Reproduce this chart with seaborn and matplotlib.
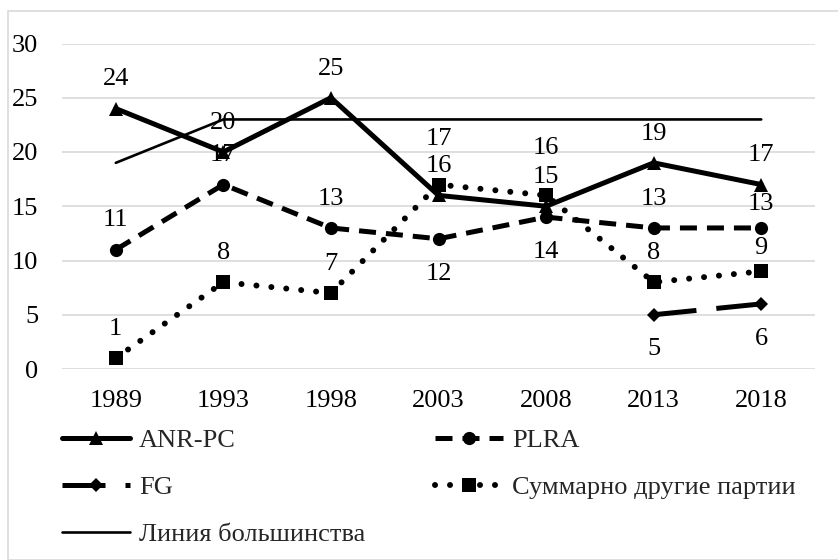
import numpy as np
import pandas as pd
import matplotlib
matplotlib.use("Agg")
import matplotlib.pyplot as plt
from matplotlib.lines import Line2D
from matplotlib.patches import Rectangle
import seaborn as sns

# data
years = ["1989", "1993", "1998", "2003", "2008", "2013", "2018"]
anr_pc = [24, 20, 25, 16, 15, 19, 17]
plra = [11, 17, 13, 12, 14, 13, 13]
fg = [np.nan, np.nan, np.nan, np.nan, np.nan, 5, 6]
others = [1, 8, 7, 17, 16, 8, 9]
majority = [19, 23, 23, 23, 23, 23, 23]

names = ["ANR-PC", "PLRA", "FG", "Суммарно другие партии", "Линия большинства"]
values = [anr_pc, plra, fg, others, majority]

df = pd.DataFrame({"pos": np.arange(len(years))})
for name, vals in zip(names, values):
    df[name] = vals

sns.set_theme(style="white")
plt.rcParams["font.family"] = ["Liberation Serif", "DejaVu Serif"]

FS = 19
LW = 3.6

styles = {
    "ANR-PC": dict(linestyle="-", marker="^", markersize=10, linewidth=LW),
    "PLRA": dict(linestyle=(0, (3.4, 2.0)), marker="o", markersize=9.5, linewidth=LW),
    "FG": dict(linestyle=(0, (8.6, 4.0)), marker="D", markersize=6.8, linewidth=LW),
    "Суммарно другие партии": dict(linestyle=(0, (0.01, 2.5)), marker="s", markersize=9.5,
                                   linewidth=4.3, dash_capstyle="round"),
    "Линия большинства": dict(linestyle="-", marker=None, linewidth=1.9),
}

# where the value labels go: "above" / "below", None = no labels
label_side = {
    "ANR-PC": "above",
    "PLRA": ["above", "above", "above", "below", "below", "above", "above"],
    "FG": "below",
    "Суммарно другие партии": "above",
    "Линия большинства": None,
}
# a few labels were pushed by hand in the original
nudge = {("Суммарно другие партии", 3): 12, ("Суммарно другие партии", 4): 13,
         ("PLRA", 6): -4, ("Суммарно другие партии", 6): -4}

fig = plt.figure(figsize=(8.38, 5.6), dpi=100)
ax = fig.add_axes([62 / 838, 1 - 369 / 560, (815 - 62) / 838, (369 - 43.5) / 560])

for name in names:
    sns.lineplot(data=df, x="pos", y=name, ax=ax, color="black",
                 markeredgewidth=0, **styles[name])

for name, vals in zip(names, values):
    side = label_side[name]
    if side is None:
        continue
    for i, v in enumerate(vals):
        if np.isnan(v):
            continue
        s = side[i] if isinstance(side, list) else side
        dy = 21 if s == "above" else -25
        dy += nudge.get((name, i), 0)
        ax.annotate(f"{int(v)}", (i, v), xytext=(0, dy), textcoords="offset points",
                    ha="center", va="center", fontsize=FS, color="black")

ax.set_xlim(-0.5, len(years) - 0.5)
ax.set_ylim(0, 30)
ax.set_yticks(range(0, 31, 5))
ax.set_xticks(df["pos"])
ax.set_xticklabels(years)
ax.set_xlabel("")
ax.set_ylabel("")
ax.grid(axis="y", color="#d9d9d9", linewidth=1.2)
ax.set_axisbelow(True)
for sp in ax.spines.values():
    sp.set_visible(False)
ax.tick_params(axis="both", length=0, labelsize=FS, colors="black")
ax.tick_params(axis="y", pad=17)
ax.tick_params(axis="x", pad=15)

handles = {}
for name in names:
    handles[name] = Line2D([0], [0], color="black", markeredgewidth=0, **styles[name])
order = ["ANR-PC", "FG", "Линия большинства", "PLRA", "Суммарно другие партии"]
fig.legend([handles[n] for n in order], order, loc="upper left",
           bbox_to_anchor=(62 / 838, 1 - 429 / 560), ncol=2, frameon=False,
           fontsize=FS, handlelength=2.58, handletextpad=0.33, columnspacing=2.65,
           labelspacing=0.88, borderpad=0, borderaxespad=0)

fig.patches.append(Rectangle((8 / 838, 0), 1.0, 1 - 11 / 560, transform=fig.transFigure,
                             fill=False, edgecolor="#d9d9d9", linewidth=1.2))

fig.savefig("out.png", dpi=100)
